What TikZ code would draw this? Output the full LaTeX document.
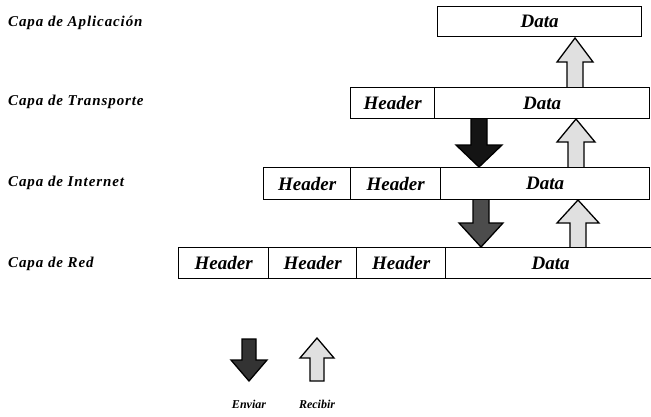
\documentclass[tikz,border=0pt]{standalone}
\usepackage{fontspec}
\setmainfont{Liberation Serif}
\begin{document}
\begin{tikzpicture}[x=1pt,y=-1pt,
  cell/.style={draw=black, line width=1.4pt, fill=white, anchor=north west,
    inner sep=0pt, font=\fontsize{19}{19}\selectfont\bfseries\itshape},
  hdr/.style={cell},
  layer/.style={anchor=west, inner sep=0pt,
    font=\fontsize{15}{15}\selectfont\bfseries\itshape\addfontfeature{LetterSpace=6}},
  legend/.style={anchor=center, inner sep=0pt, font=\fontsize{12}{12}\selectfont\bfseries\itshape},
  blk/.style={draw=black, line width=1.3pt, line join=miter}
]
\useasboundingbox (0,0) rectangle (651,416);
\clip (0,0) rectangle (651,416);

% up arrow: centre x, apex y, head base y, bottom y, head half width, shaft half width
\newcommand{\uparr}[7]{%
  \draw[blk, fill=#7] (#1,#2) -- ({#1+#5},#3) -- ({#1+#6},#3) -- ({#1+#6},#4)
    -- ({#1-#6},#4) -- ({#1-#6},#3) -- ({#1-#5},#3) -- cycle;}
% down arrow: centre x, top y, head base y, tip y, head half width, shaft half width
\newcommand{\downarr}[7]{%
  \draw[blk, fill=#7] ({#1-#6},#2) -- ({#1+#6},#2) -- ({#1+#6},#3) -- ({#1+#5},#3)
    -- (#1,#4) -- ({#1-#5},#3) -- ({#1-#6},#3) -- cycle;}

% layer names
\node[layer] (lApp) at (8,23)  {Capa de Aplicación};
\node[layer] (lTr)  at (8,102) {Capa de Transporte};
\node[layer] (lIn)  at (8,183) {Capa de Internet};
\node[layer] (lRed) at (8,264) {Capa de Red};

% arrows between the layers
\uparr{575}{38}{62}{88}{18}{8}{black!12}
\uparr{576}{119}{142}{168}{19}{8}{black!12}
\uparr{578}{200}{223}{248}{21}{8}{black!12}
\downarr{479}{117}{145}{167}{23}{8}{black!92}
\downarr{481}{198}{223}{247}{22}{8}{black!70}

% application layer
\node[cell, minimum width=204pt, minimum height=30pt] (aData) at (437,6) {Data};

% transport layer
\node[hdr, minimum width=84pt, minimum height=31pt] (tH1) at (350,87) {Header};
\node[cell, minimum width=215pt, minimum height=31pt] (tData) at (434,87) {Data};

% internet layer
\node[hdr, minimum width=87pt, minimum height=32pt] (iH1) at (263,167) {Header};
\node[hdr, minimum width=90pt, minimum height=32pt] (iH2) at (350,167) {Header};
\node[cell, minimum width=209pt, minimum height=32pt] (iData) at (440,167) {Data};

% network layer
\node[hdr, minimum width=90pt, minimum height=31pt] (rH1) at (178,247) {Header};
\node[hdr, minimum width=88pt, minimum height=31pt] (rH2) at (268,247) {Header};
\node[hdr, minimum width=89pt, minimum height=31pt] (rH3) at (356,247) {Header};
\node[cell, minimum width=210pt, minimum height=31pt] (rData) at (445,247) {Data};

% legend
\downarr{249}{339}{360}{381}{18}{7}{black!80}
\uparr{317}{338}{358}{381}{17}{7}{black!12}
\node[legend] (eSend) at (249,404) {Enviar};
\node[legend] (eRecv) at (317,404) {Recibir};
\end{tikzpicture}
\end{document}
